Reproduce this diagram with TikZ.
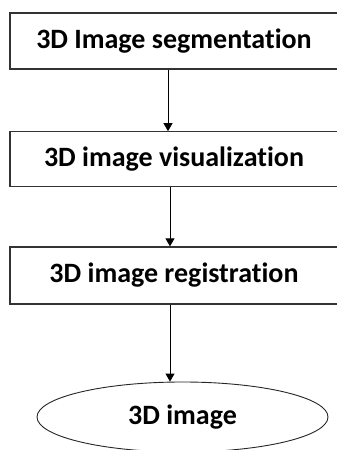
\documentclass[tikz,border=0pt]{standalone}
\usepackage{fontspec}
\setmainfont[Ligatures=NoCommon]{Carlito}
\usetikzlibrary{arrows.meta,shapes.geometric}
\tikzset{
  stepbox/.style={draw=black!80, line width=1.3pt, rectangle, minimum width=328pt, inner sep=0pt, font=\bfseries\fontsize{28}{32}\selectfont},
  endoval/.style={draw=black!85, line width=0.9pt, ellipse, minimum width=291pt, minimum height=70pt, inner sep=0pt, font=\bfseries\fontsize{28}{32}\selectfont},
  arr/.style={draw=black, line width=1pt, -{Triangle[length=8pt,width=9pt]}}
}
\begin{document}
\begin{tikzpicture}[x=1pt,y=1pt]
\useasboundingbox (0,0) rectangle (337,450);
\clip (0,0) rectangle (337,450);
\node[stepbox, minimum height=56pt] (b1) at (174,409) {3D Image segmentation};
\node[stepbox, minimum height=55pt] (b2) at (174,290.7) {3D image visualization};
\node[stepbox, minimum height=57pt] (b3) at (174,174.5) {3D image registration};
\node[endoval] (e) at (182.5,33) {3D image};
\coordinate (x1) at (168,0);
\coordinate (x2) at (170,0);
\draw[arr] (b1.south -| x1) -- (b2.north -| x1);
\draw[arr] (b2.south -| x2) -- (b3.north -| x2);
\draw[arr] (b3.south -| x2) -- (e.north -| x2);
\end{tikzpicture}
\end{document}
